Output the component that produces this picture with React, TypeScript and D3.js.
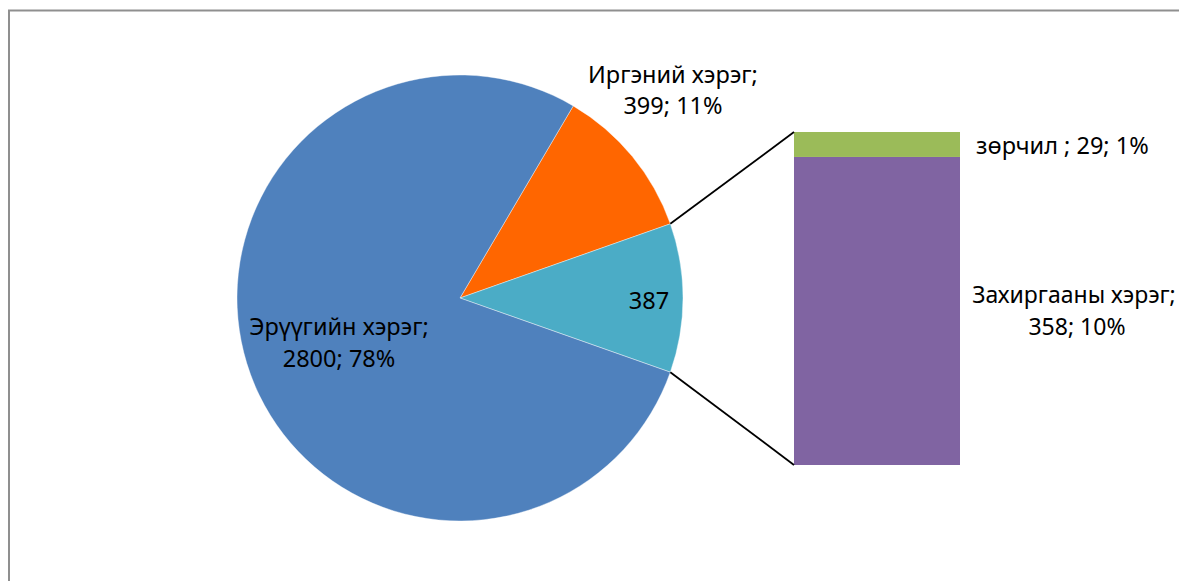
import React from "react";
import * as d3 from "d3";

const pieLabels = ["Иргэний хэрэг", "Бусад", "Эрүүгийн хэрэг"];
const pieValues = [399, 387, 2800];
const pieColors = ["#FF6600", "#4BACC6", "#4F81BD"];

const barLabels = ["Захиргааны хэрэг", "зөрчил "];
const barValues = [358, 29];
const barColors = ["#8064A2", "#9BBB59"];
const barPercents = ["10%", "1%"];
const piePercents = ["11%", "", "78%"];

const W = 1179;
const H = 581;
const FONT = "'Noto Sans', sans-serif";

export default function App() {
  const cx = 460;
  const cy = 298;
  const r = 223;
  const total = d3.sum(pieValues);
  const fOther = pieValues[1] / total;
  const fIrg = pieValues[0] / total;
  const start = Math.PI / 2 - Math.PI * fOther - 2 * Math.PI * fIrg;
  const pie = d3
    .pie<number>()
    .sort(null)
    .startAngle(start)
    .endAngle(start + 2 * Math.PI)
    .value((d) => d);
  const arcs = pie(pieValues);
  const arc = d3.arc<d3.PieArcDatum<number>>().innerRadius(0).outerRadius(r);

  const other = arcs[1];
  const pt = (a: number) => [cx + Math.sin(a) * r, cy - Math.cos(a) * r];
  const [ux, uy] = pt(other.startAngle);
  const [lx, ly] = pt(other.endAngle);

  const barX0 = 794;
  const barX1 = 960;
  const barTop = 132;
  const barBottom = 465;
  const y = d3.scaleLinear().domain([0, d3.sum(barValues)]).range([barBottom, barTop]);
  const stacks: { v0: number; v1: number; i: number }[] = [];
  let acc = 0;
  barValues.forEach((v, i) => {
    stacks.push({ v0: acc, v1: acc + v, i });
    acc += v;
  });

  const fs = 23.5;
  const textProps = { fontFamily: FONT, fontSize: fs, fill: "#000" };

  return (
    <svg width={W} height={H} style={{ position: "absolute", left: 0, top: 0 }}>
      <rect x={0} y={0} width={W} height={H} fill="#fff" />
      <rect x={9} y={10.5} width={W + 20} height={H + 20} fill="#fff" stroke="#8f8f8f" strokeWidth={2} />
      <g transform={`translate(${cx},${cy})`}>
        {arcs.map((a, i) => (
          <path key={i} d={arc(a) || ""} fill={pieColors[i]} stroke="#fff" strokeWidth={0.4} />
        ))}
      </g>
      {stacks.map((s) => (
        <rect
          key={s.i}
          x={barX0}
          y={y(s.v1)}
          width={barX1 - barX0}
          height={y(s.v0) - y(s.v1)}
          fill={barColors[s.i]}
        />
      ))}
      <line x1={ux} y1={uy} x2={barX0} y2={barTop} stroke="#000" strokeWidth={1.8} />
      <line x1={lx} y1={ly} x2={barX0} y2={barBottom} stroke="#000" strokeWidth={1.8} />

      {/* pie labels */}
      <text {...textProps} textAnchor="middle">
        <tspan x={673} y={83}>{`${pieLabels[0]};`}</tspan>
        <tspan x={673} y={114}>{`${pieValues[0]}; ${piePercents[0]}`}</tspan>
      </text>
      <text {...textProps} textAnchor="middle" x={649} y={309}>
        {pieValues[1]}
      </text>
      <text {...textProps} textAnchor="middle">
        <tspan x={339} y={335}>{`${pieLabels[2]};`}</tspan>
        <tspan x={339} y={367}>{`${pieValues[2]}; ${piePercents[2]}`}</tspan>
      </text>

      {/* bar labels */}
      <text {...textProps} textAnchor="start" x={976} y={154}>
        {`${barLabels[1]}; ${barValues[1]}; ${barPercents[1]}`}
      </text>
      <text {...textProps} fontSize={23} textAnchor="middle">
        <tspan x={1074} y={303}>{`${barLabels[0]};`}</tspan>
        <tspan x={1077} y={335}>{`${barValues[0]}; ${barPercents[0]}`}</tspan>
      </text>
    </svg>
  );
}
